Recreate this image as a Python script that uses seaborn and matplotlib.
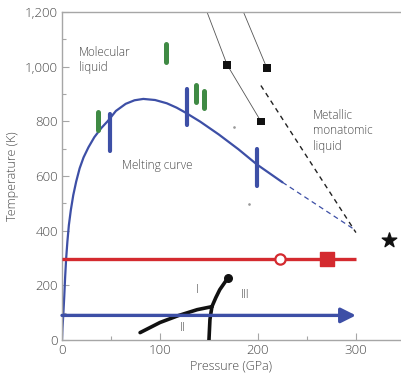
import numpy as np
import pandas as pd
import seaborn as sns
from matplotlib import pyplot as plt
from matplotlib.ticker import MultipleLocator, FuncFormatter

# melting curve (solid part)
melt_p = [0, 0.5, 1.3, 2.3, 3.2, 4.2, 5.5, 7, 9, 11.5, 14.5, 18, 22, 27, 33, 40, 47,
          55, 65, 74, 83, 95, 107, 117, 126, 141, 160, 180, 199, 225]
melt_t = [0, 45, 91, 160, 230, 296, 360, 420, 475, 530, 580, 628, 668, 705, 742, 775, 802,
          838, 864, 877, 882, 878, 866, 850, 832, 799, 752, 698, 642, 577]
# extrapolated part (dashed)
melt_ext_p = [225, 299]
melt_ext_t = [577, 403]

# experimental bars: pressure, T low, T high
green_p = [37, 106, 137, 145]
green_lo = [770, 1018, 869, 850]
green_hi = [835, 1084, 934, 912]
blue_p = [49, 128, 199]
blue_lo = [690, 785, 562]
blue_hi = [825, 920, 697]

# thin lines with square points
line_a_p = [148, 168.5, 203]
line_a_t = [1200, 1007, 800]
line_b_p = [185.2, 209]
line_b_t = [1200, 996]
metal_p = [203, 300]
metal_t = [931, 393]
stray_p = [175.7, 191]
stray_t = [779, 498]

# solid phase boundaries
b12_p = [79.7, 100, 118.5, 138, 153]
b12_t = [27, 64, 89, 111, 122]
b23_p = [153, 151, 150]
b23_t = [122, 75, 0]
b13_p = [153, 157, 161, 169.5]
b13_t = [122, 155, 184, 228]

room_t = 295
room_p = [0, 300]
open_pt = (222.5, 295)
red_sq = (270, 295)
star_pt = (334, 365)
cold_t = 90
cold_p = [0, 300]

BLUE = "#3d4fa6"
RED = "#d42a2f"
GREEN = "#3f8a44"
TXT = "#4a4a4a"
SPINE = "#a6a6a6"

sns.set_style("ticks")
plt.rcParams["font.family"] = ["Open Sans", "DejaVu Sans"]

fig = plt.figure(figsize=(4.01, 3.75), dpi=100)
ax = fig.add_axes([62 / 401, 35 / 375, 339 / 401, 328 / 375])

# melting curve
sns.lineplot(x=melt_p, y=melt_t, ax=ax, color=BLUE, lw=1.6, sort=False, estimator=None)
ax.plot(melt_ext_p, melt_ext_t, color=BLUE, lw=0.9, ls=(0, (4, 3)))

for p, lo, hi in zip(green_p, green_lo, green_hi):
    ax.plot([p, p], [lo, hi], color=GREEN, lw=3.6, solid_capstyle="round")
for p, lo, hi in zip(blue_p, blue_lo, blue_hi):
    ax.plot([p, p], [lo, hi], color=BLUE, lw=3.0, solid_capstyle="round")

ax.plot(line_a_p, line_a_t, color="#555555", lw=0.6)
ax.plot(line_b_p, line_b_t, color="#555555", lw=0.6)
sq = pd.DataFrame({"p": line_a_p[1:] + line_b_p[1:], "t": line_a_t[1:] + line_b_t[1:]})
sns.scatterplot(data=sq, x="p", y="t", ax=ax, marker="s", s=30, color="#111111",
                edgecolor="none", zorder=5)
ax.plot(metal_p, metal_t, color="#222222", lw=1.0, ls=(0, (3.5, 3)))
ax.scatter(stray_p, stray_t, s=0.8, color="#999999")

# room temperature isotherm
ax.plot(room_p, [room_t, room_t], color=RED, lw=2.4, solid_capstyle="butt", zorder=4)
ax.scatter([open_pt[0]], [open_pt[1]], s=55, facecolor="white", edgecolor=RED,
           linewidth=1.6, zorder=6)
ax.scatter([red_sq[0]], [red_sq[1]], s=95, marker="s", color=RED, zorder=6)
ax.scatter([star_pt[0]], [star_pt[1]], s=120, marker="*", color="#111111", zorder=6)

# low temperature compression with arrow
ax.annotate("", xy=(cold_p[1], cold_t), xytext=(cold_p[0], cold_t),
            arrowprops=dict(arrowstyle="-|>,head_length=0.9,head_width=0.45",
                            color=BLUE, lw=2.4, shrinkA=0, shrinkB=0), zorder=4)

# solid phase boundaries
for bp, bt in [(b12_p, b12_t), (b23_p, b23_t), (b13_p, b13_t)]:
    ax.plot(bp, bt, color="#111111", lw=2.6, solid_capstyle="round", zorder=3)
ax.scatter([b13_p[-1]], [b13_t[-1]], s=30, color="#111111", zorder=5)

# labels
kw = dict(color=TXT, fontsize=8.5, fontweight="light")
ax.text(17, 1025, "Molecular\nliquid", va="center", ha="left", linespacing=1.25, **kw)
ax.text(61, 638, "Melting curve", va="center", ha="left", **kw)
ax.text(256, 766, "Metallic\nmonatomic\nliquid", va="center", ha="left", linespacing=1.25, **kw)
ax.text(138, 183, "I", va="center", ha="center", **kw)
ax.text(123, 45, "II", va="center", ha="center", **kw)
ax.text(187, 168, "III", va="center", ha="center", **kw)

ax.set_xlim(0, 346)
ax.set_ylim(0, 1200)
ax.xaxis.set_major_locator(MultipleLocator(100))
ax.xaxis.set_minor_locator(MultipleLocator(50))
ax.yaxis.set_major_locator(MultipleLocator(200))
ax.yaxis.set_minor_locator(MultipleLocator(100))
ax.yaxis.set_major_formatter(FuncFormatter(lambda v, _: f"{int(v):,}"))
ax.set_xticks([0, 100, 200, 300])
ax.tick_params(which="major", direction="in", length=5, width=0.8, color=SPINE,
               labelsize=9.5, labelcolor=TXT, pad=3)
ax.tick_params(which="minor", direction="in", length=3, width=0.8, color=SPINE)
for lab in ax.get_xticklabels() + ax.get_yticklabels():
    lab.set_fontweight("light")

for side in ["left", "bottom", "top"]:
    ax.spines[side].set_color(SPINE)
    ax.spines[side].set_linewidth(1.0)
ax.spines["right"].set_visible(False)

ax.set_xlabel("Pressure (GPa)", fontsize=9, color=TXT, fontweight="light", labelpad=2)
ax.set_ylabel("Temperature (K)", fontsize=9, color=TXT, fontweight="light", labelpad=4)

fig.savefig("out.png", dpi=100)
